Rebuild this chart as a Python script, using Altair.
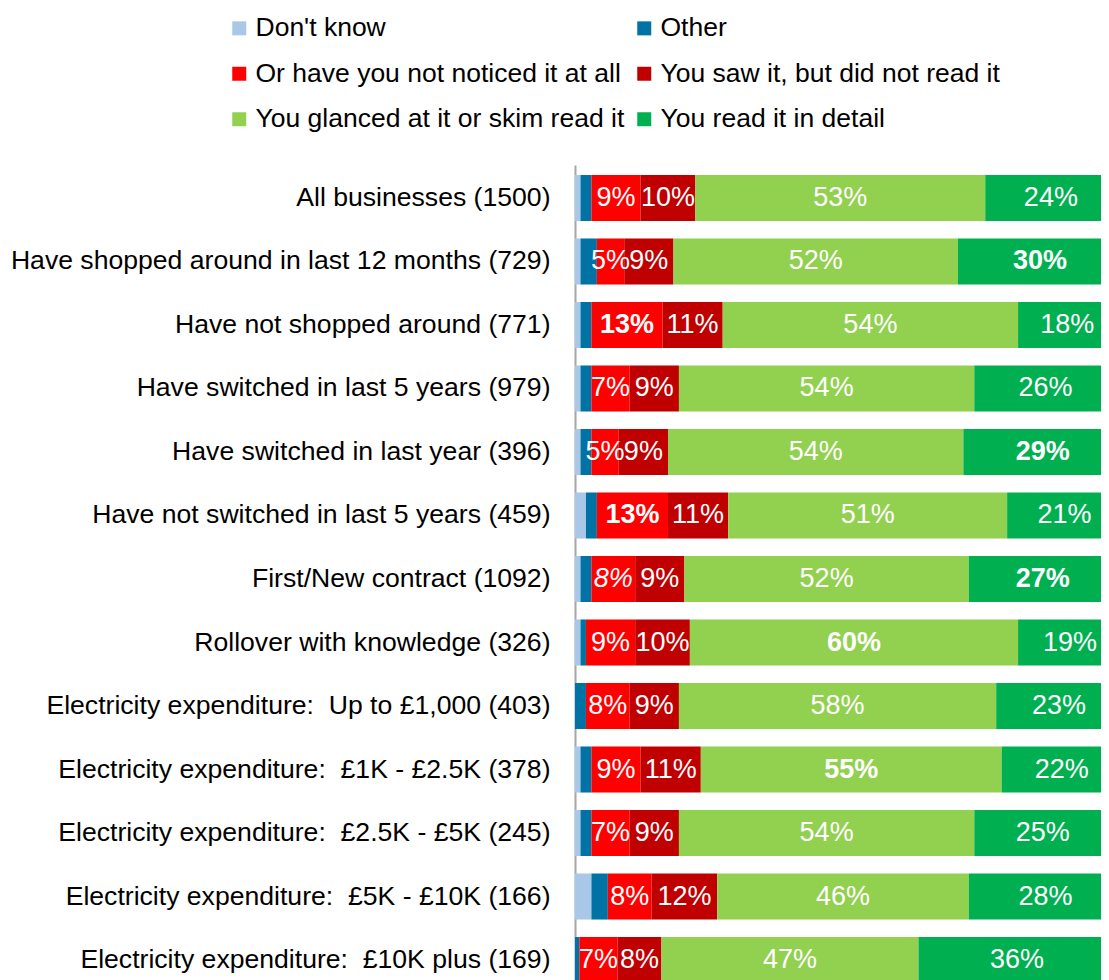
import altair as alt
import pandas as pd

categories = [
    "All businesses (1500)",
    "Have shopped around in last 12 months (729)",
    "Have not shopped around (771)",
    "Have switched in last 5 years (979)",
    "Have switched in last year (396)",
    "Have not switched in last 5 years (459)",
    "First/New contract (1092)",
    "Rollover with knowledge (326)",
    "Electricity expenditure:\u00a0 Up to £1,000 (403)",
    "Electricity expenditure:\u00a0 £1K - £2.5K (378)",
    "Electricity expenditure:\u00a0 £2.5K - £5K (245)",
    "Electricity expenditure:\u00a0 £5K - £10K (166)",
    "Electricity expenditure:\u00a0 £10K plus (169)",
]

series_names = [
    "Don't know",
    "Other",
    "Or have you not noticed it at all",
    "You saw it, but did not read it",
    "You glanced at it or skim read it",
    "You read it in detail",
]
series_colors = ["#A9C8E8", "#0072A3", "#FF0000", "#C00000", "#92D050", "#00B050"]

dont_know = [1, 1, 1, 1, 1, 2, 1, 1, 0, 1, 1, 3, 0]
other = [2, 3, 2, 2, 2, 2, 2, 1, 2, 2, 2, 3, 0.8]
not_noticed = [9, 5, 13, 7, 5, 13, 8, 9, 8, 9, 7, 8, 7]
saw_not_read = [10, 9, 11, 9, 9, 11, 9, 10, 9, 11, 9, 12, 8]
glanced = [53, 52, 54, 54, 54, 51, 52, 60, 58, 55, 54, 46, 47]
in_detail = [24, 30, 18, 26, 29, 21, 27, 19, 23, 22, 25, 28, 36]

# label styles for the four labelled segments ("n" normal, "b" bold, "i" italic)
style_not_noticed = ["n", "n", "b", "n", "n", "b", "i", "n", "n", "n", "n", "n", "n"]
style_saw = ["n"] * 13
style_glanced = ["n", "n", "n", "n", "n", "n", "n", "b", "n", "b", "n", "n", "n"]
style_detail = ["n", "b", "n", "n", "b", "n", "b", "n", "n", "n", "n", "n", "n"]

all_series = [dont_know, other, not_noticed, saw_not_read, glanced, in_detail]
all_styles = [None, None, style_not_noticed, style_saw, style_glanced, style_detail]

rows = []
for ci, cat in enumerate(categories):
    cum = 0.0
    for si, name in enumerate(series_names):
        v = all_series[si][ci]
        st = all_styles[si]
        rows.append({
            "cat": cat,
            "series": name,
            "order": si,
            "value": v,
            "start": cum,
            "end": cum + v,
            "mid": cum + v / 2,
            "label": f"{round(v)}%" if st is not None else "",
            "style": st[ci] if st is not None else "none",
        })
        cum += v
df = pd.DataFrame(rows)

FONT = "Liberation Sans"

y_enc = alt.Y(
    "cat:N",
    sort=categories,
    scale=alt.Scale(range=[0, 828], paddingInner=0.275, paddingOuter=0.157),
    axis=alt.Axis(
        title=None,
        labelFont=FONT,
        labelFontSize=26.6,
        labelColor="#000000",
        labelPadding=25,
        labelLimit=700,
        ticks=False,
        domainColor="#A6A6A6",
        domainWidth=2,
    ),
)
x_scale = alt.Scale(domain=[0, 100], range=[0, 547])

bars = alt.Chart(df).mark_bar(clip=True).encode(
    x=alt.X("start:Q", scale=x_scale, axis=None),
    x2="end:Q",
    y=y_enc,
    color=alt.Color(
        "series:N",
        scale=alt.Scale(domain=series_names, range=series_colors),
        legend=alt.Legend(
            orient="none",
            legendX=-349,
            legendY=-150,
            columns=2,
            direction="horizontal",
            title=None,
            symbolType="square",
            symbolSize=196,
            symbolStrokeWidth=0,
            labelFont=FONT,
            labelFontSize=26.5,
            labelColor="#000000",
            labelOffset=3,
            columnPadding=6,
            rowPadding=18.5,
            labelLimit=600,
        ),
    ),
    order=alt.Order("order:Q"),
)


def text_layer(style, weight, fstyle):
    return (
        alt.Chart(df)
        .transform_filter(alt.datum.style == style)
        .mark_text(
            clip=True,
            color="white",
            font=FONT,
            fontSize=27,
            fontWeight=weight,
            fontStyle=fstyle,
            align="center",
            baseline="middle",
        )
        .encode(
            x=alt.X("mid:Q", scale=x_scale, axis=None),
            y=alt.Y("cat:N", sort=categories),
            text="label:N",
        )
    )


chart = (
    alt.layer(
        bars,
        text_layer("n", "normal", "normal"),
        text_layer("b", "bold", "normal"),
        text_layer("i", "normal", "italic"),
    )
    .properties(
        width=526,
        height=815,
        autosize=alt.AutoSizeParams(type="none"),
        padding={"left": 567, "top": 157, "right": 0, "bottom": 0},
    )
    .configure_view(stroke=None)
)

chart.save("out.html", embed_options={"renderer": "svg", "actions": False})
